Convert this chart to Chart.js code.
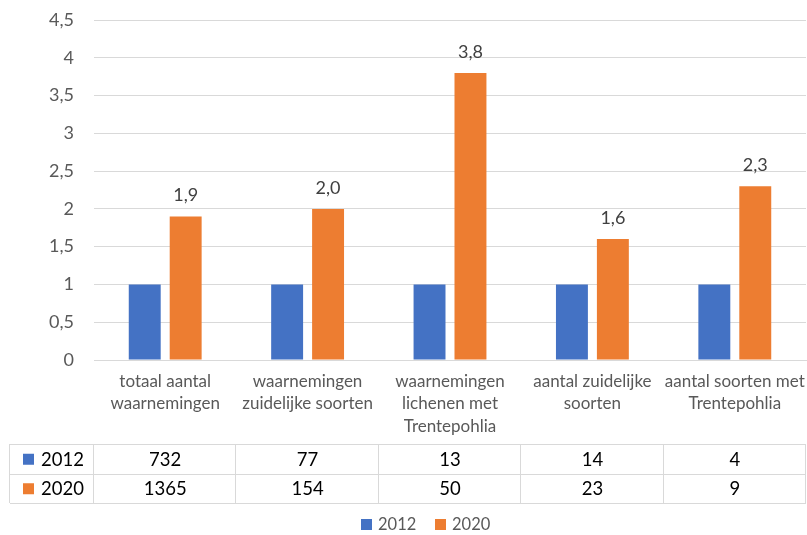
<!DOCTYPE html>
<html>
<head>
<meta charset="utf-8">
<script src="https://cdn.jsdelivr.net/npm/chart.js@4/dist/chart.umd.min.js"></script>
<style>
    html, body { margin: 0; padding: 0; background: #fff; }
    #wrap { width: 807px; height: 535px; position: relative; }
</style>
</head>
<body>
<div id="wrap"><canvas id="chart"></canvas></div>
<script>
// categorieën (as-labels, per regel)
const categories = [
    ['totaal aantal', 'waarnemingen'],
    ['waarnemingen', 'zuidelijke soorten'],
    ['waarnemingen', 'lichenen met', 'Trentepohlia'],
    ['aantal zuidelijke', 'soorten'],
    ['aantal soorten met', 'Trentepohlia']
];
const seriesNames = ['2012', '2020'];

// index t.o.v. 2012
const ratio2012 = [1, 1, 1, 1, 1];
const ratio2020 = [1.9, 2.0, 3.8, 1.6, 2.3];

// absolute aantallen in de tabel
const counts2012 = [732, 77, 13, 14, 4];
const counts2020 = [1365, 154, 50, 23, 9];

const yMax = 4.5;
const yStep = 0.5;

const BLUE = '#4472C4';
const ORANGE = '#ED7D31';
const FONT = 'Lato, "Open Sans", sans-serif';

const fmt = v => String(v).replace('.', ',');

// labels boven de oranje staven
const valueLabels = {
    id: 'valueLabels',
    afterDatasetsDraw(chart) {
        const ctx = chart.ctx;
        const meta = chart.getDatasetMeta(1);
        ctx.save();
        ctx.font = '18px ' + FONT;
        ctx.fillStyle = '#404040';
        ctx.textAlign = 'center';
        ctx.textBaseline = 'middle';
        meta.data.forEach((bar, i) => {
            ctx.fillText(ratio2020[i].toFixed(1).replace('.', ','), bar.x, bar.y - 21);
        });
        ctx.restore();
    }
};

// gegevenstabel onder de as + legenda
const dataTable = {
    id: 'dataTable',
    afterDraw(chart) {
        const ctx = chart.ctx;
        const x = chart.scales.x;
        const area = chart.chartArea;
        const top = 444, rowH = 29.5;
        const left = 10;
        const colW = (area.right - area.left) / categories.length;
        const rows = [counts2012, counts2020];
        const colors = [BLUE, ORANGE];

        ctx.save();
        ctx.strokeStyle = '#D9D9D9';
        ctx.lineWidth = 1;
        // horizontale lijnen
        for (let r = 0; r <= rows.length; r++) {
            const y = Math.round(top + r * rowH) + 0.5;
            ctx.beginPath();
            ctx.moveTo(left, y);
            ctx.lineTo(area.right, y);
            ctx.stroke();
        }
        // verticale lijnen
        const vlines = [left, area.left];
        for (let c = 1; c <= categories.length; c++) vlines.push(area.left + c * colW);
        vlines.forEach(vx => {
            const px = Math.round(vx) - 0.5;
            ctx.beginPath();
            ctx.moveTo(px, top);
            ctx.lineTo(px, top + rows.length * rowH);
            ctx.stroke();
        });

        ctx.font = '18.5px ' + FONT;
        ctx.textBaseline = 'middle';
        rows.forEach((vals, r) => {
            const cy = top + r * rowH + rowH / 2 + 1;
            ctx.fillStyle = colors[r];
            ctx.fillRect(23, cy - 6, 11, 11);
            ctx.fillStyle = '#000';
            ctx.textAlign = 'left';
            ctx.fillText(seriesNames[r], 41, cy);
            ctx.textAlign = 'center';
            vals.forEach((v, i) => {
                ctx.fillText(String(v), x.getPixelForValue(i), cy);
            });
        });

        // legenda
        ctx.font = '16.5px ' + FONT;
        ctx.textAlign = 'left';
        const ly = 525;
        const lx = [361, 435];
        seriesNames.forEach((name, i) => {
            ctx.fillStyle = colors[i];
            ctx.fillRect(lx[i], ly - 6, 11, 11);
            ctx.fillStyle = '#595959';
            ctx.fillText(name, lx[i] + 17, ly);
        });
        ctx.restore();
    }
};

new Chart(document.getElementById('chart'), {
    type: 'bar',
    data: {
        labels: categories,
        datasets: [
            { label: seriesNames[0], data: ratio2012, backgroundColor: BLUE },
            { label: seriesNames[1], data: ratio2020, backgroundColor: ORANGE }
        ]
    },
    options: {
        responsive: true,
        maintainAspectRatio: false,
        animation: false,
        categoryPercentage: 0.575,
        barPercentage: 0.78,
        layout: { padding: { top: 0, right: 1, left: 0, bottom: 30 } },
        plugins: {
            tooltip: { enabled: false },
            legend: { display: false }
        },
        scales: {
            x: {
                grid: { display: false, drawTicks: false },
                border: { color: '#D9D9D9' },
                ticks: {
                    autoSkip: false,
                    maxRotation: 0,
                    padding: 10,
                    color: '#595959',
                    font: { family: FONT, size: 17, lineHeight: 1.33 }
                },
                afterFit(scale) {
                    scale.height = 145;
                    scale.paddingLeft = 0;
                    scale.paddingRight = 0;
                }
            },
            y: {
                min: 0,
                max: yMax,
                grid: { color: '#D9D9D9', drawTicks: false },
                border: { display: false },
                ticks: {
                    stepSize: yStep,
                    padding: 20,
                    color: '#595959',
                    font: { family: FONT, size: 18 },
                    callback: v => fmt(v)
                },
                afterFit(scale) {
                    scale.width = 94;
                    scale.paddingTop = 20;
                }
            }
        }
    },
    plugins: [valueLabels, dataTable]
});
</script>
</body>
</html>
